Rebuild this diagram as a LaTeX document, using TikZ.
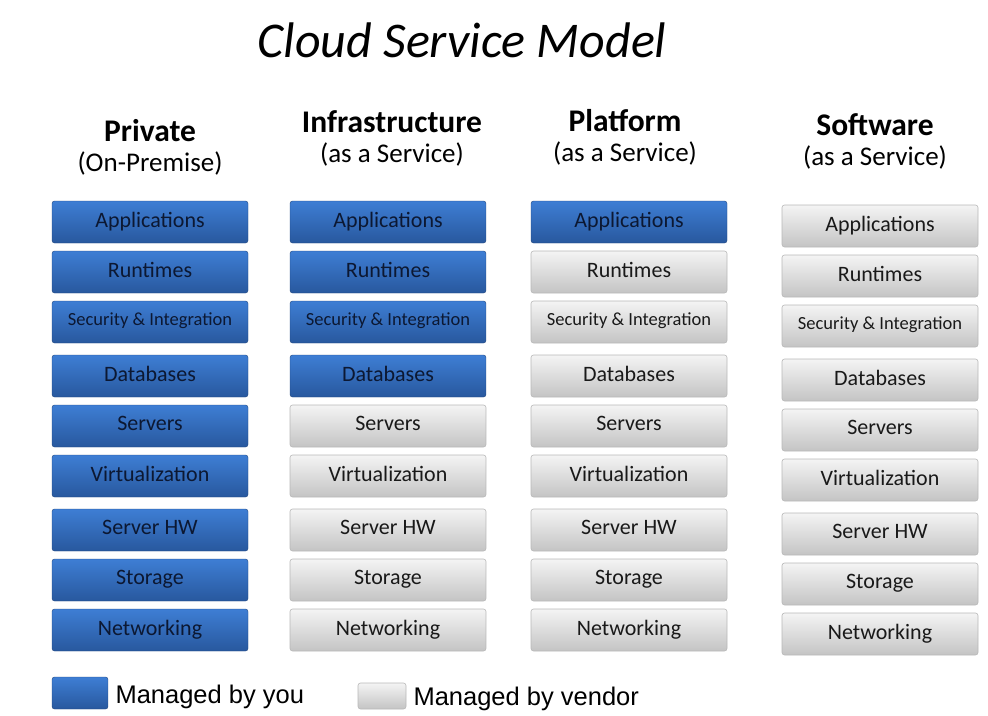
\documentclass[tikz,border=0pt]{standalone}
\usepackage{fontspec}
\setmainfont{Carlito}
\newfontfamily\legendfont{Liberation Sans}
\usepackage{xcolor}
\usetikzlibrary{positioning}

\definecolor{youTop}{RGB}{62,126,212}
\definecolor{youBot}{RGB}{40,88,158}
\definecolor{youText}{RGB}{12,24,50}
\definecolor{venTop}{RGB}{244,244,244}
\definecolor{venBot}{RGB}{196,196,196}
\definecolor{venLine}{RGB}{184,184,184}

\begin{document}
\begin{tikzpicture}[
  x=1pt, y=-1pt,
  layer/.style={rounded corners=2.5pt, minimum width=196pt, minimum height=42pt,
                inner sep=0pt, font=\fontsize{22}{25}\selectfont},
  you/.style={layer, top color=youTop, bottom color=youBot, draw=youBot!80!black,
              line width=0.4pt, text=youText},
  vendor/.style={layer, top color=venTop, bottom color=venBot, draw=venLine,
                 line width=0.6pt, text=black!90},
  colhead/.style={align=center, font=\fontsize{31.5}{36}\selectfont\bfseries},
  colsub/.style={font=\fontsize{27}{31}\selectfont},
  legtext/.style={anchor=west, font=\legendfont\fontsize{25.5}{29}\selectfont},
]
\useasboundingbox (0,0) rectangle (988,715);

% title
\node[font=\fontsize{50}{56}\selectfont\itshape] (title) at (462,40) {Cloud Service Model};

% column headings
\node[colhead] (pv) at (150,131) {Private};
\node[colsub]  (pvsub) at (150,163) {(On-Premise)};
\node[colhead] (ia) at (392,122) {Infrastructure};
\node[colsub]  (iasub) at (392,154) {(as a Service)};
\node[colhead] (pa) at (625,121) {Platform};
\node[colsub]  (pasub) at (625,153) {(as a Service)};
\node[colhead] (sa) at (875,125) {Software};
\node[colsub]  (sasub) at (875,157) {(as a Service)};

% stacks: x / y shift / number of layers managed by you / name
\foreach \cx/\dy/\nb/\col in {150/0/9/pv, 388/0/4/ia, 629/0/1/pa, 880/4/0/sa}{
  \foreach \ry/\lab [count=\i] in {222/Applications, 272/Runtimes,
      322/{\fontsize{18.5}{21}\selectfont Security \& Integration},
      376/Databases, 426/Servers, 476/Virtualization,
      530/Server HW, 580/Storage, 630/Networking}{
    \ifnum\i>\nb \def\sty{vendor}\else\def\sty{you}\fi
    \node[\sty] (\col-\i) at (\cx,\ry+\dy) {\raisebox{5pt}{\lab}};
  }
}

% legend
\node[you, minimum width=56pt, minimum height=32pt] (keyyou) at (80,693) {};
\node[legtext] (keyyoutxt) at (112,697) {Managed by you};
\node[vendor, minimum width=48pt, minimum height=26pt] (keyven) at (382,696) {};
\node[legtext] (keyventxt) at (410,699) {Managed by vendor};
\end{tikzpicture}
\end{document}
